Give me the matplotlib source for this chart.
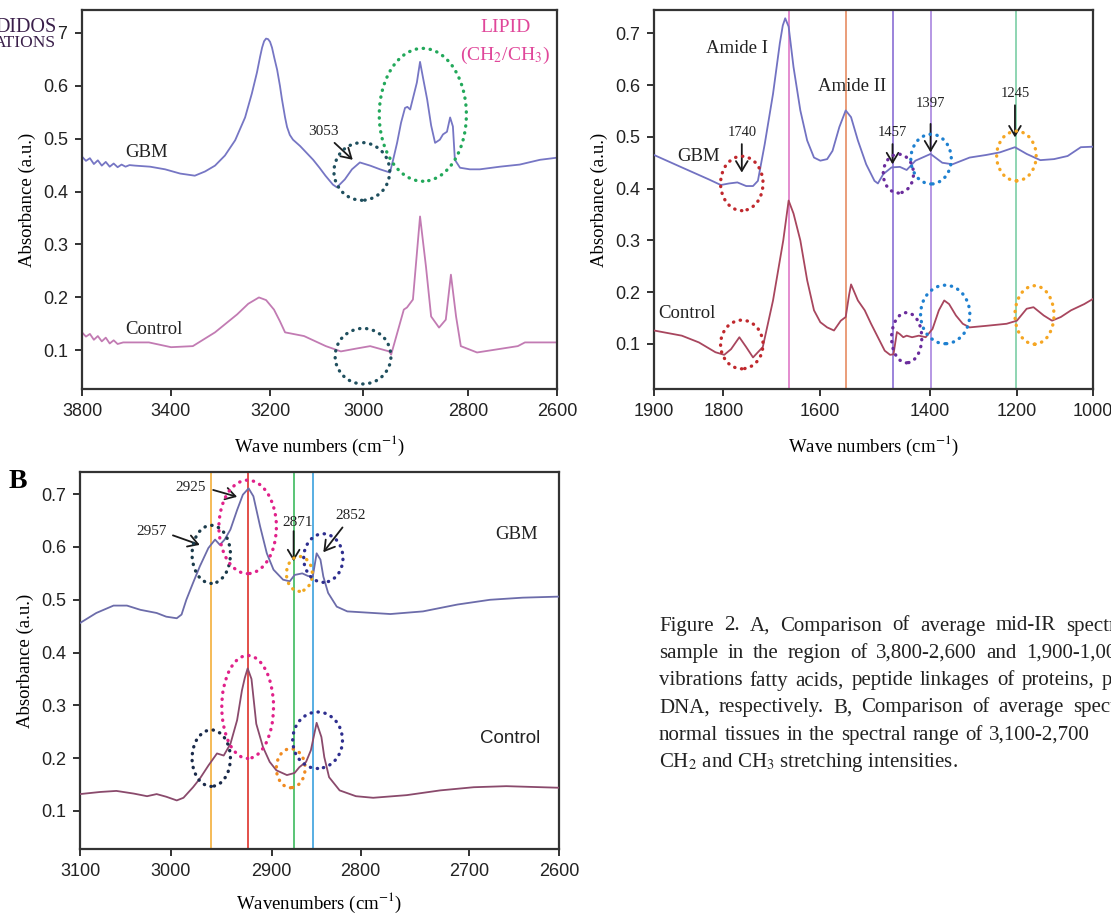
import numpy as np
import matplotlib.pyplot as plt
from matplotlib.patches import Ellipse

plt.rcParams['font.family'] = ['Liberation Sans', 'DejaVu Sans']
plt.rcParams['mathtext.fontset'] = 'stix'
SERIF = ['Liberation Serif', 'DejaVu Serif']

# ---- Panel A (left): 3800-2600 cm-1 ----
a1_wn_gbm = [3800, 3790, 3780, 3770, 3760, 3750, 3740, 3730, 3720, 3710, 3700, 3690, 3680,
             3666, 3628, 3590, 3552, 3515, 3489, 3464, 3439, 3413, 3388,
             3371, 3358, 3350, 3345, 3340, 3335, 3330, 3325, 3320, 3314,
             3307, 3300, 3295, 3287, 3282, 3275, 3267, 3249, 3216, 3200,
             3185, 3166, 3156, 3136, 3118, 3098, 3072, 3047, 3022, 3014,
             3004, 2994, 2984, 2978, 2971, 2961, 2954, 2946, 2939, 2928,
             2918, 2908, 2896, 2888, 2878, 2870, 2863, 2858, 2845, 2820,
             2795, 2744, 2694, 2643, 2600]
a1_abs_gbm = [.466, .458, .463, .452, .459, .449, .456, .447, .453, .446, .451, .447, .450,
              .449, .447, .442, .434, .430, .438, .449, .468, .497, .540,
              .585, .625, .655, .672, .684, .689, .688, .683, .672, .652,
              .630, .600, .575, .540, .522, .507, .498, .486, .460, .445,
              .430, .413, .408, .423, .442, .455, .449, .442, .436, .460,
              .492, .530, .558, .560, .555, .585, .606, .645, .617, .574,
              .525, .492, .498, .508, .513, .540, .523, .460, .445, .442,
              .442, .447, .451, .460, .464]
a1_wn_ctl = [3800, 3790, 3780, 3770, 3760, 3750, 3740, 3730, 3720, 3710, 3696,
             3631, 3575, 3520, 3464, 3408, 3380, 3353, 3335, 3315, 3300,
             3287, 3239, 3184, 3146, 3110, 3072, 3024, 3019, 2987, 2979,
             2964, 2946, 2931, 2918, 2898, 2881, 2868, 2855, 2843, 2802,
             2699, 2681, 2600]
a1_abs_ctl = [.134, .126, .131, .120, .127, .117, .124, .113, .119, .112, .115,
              .115, .106, .108, .134, .168, .188, .200, .195, .177, .155,
              .134, .127, .108, .098, .103, .108, .098, .092, .177, .181,
              .196, .353, .258, .164, .143, .158, .243, .164, .108, .096,
              .108, .115, .115]
a1_tick_pos = [3800, 3576, 3324, 3089, 2824, 2600]
a1_tick_lab = ['3800', '3400', '3200', '3000', '2800', '2600']

# ---- Panel A (right): 1900-1000 cm-1 ----
a2_wn_gbm = [1900, 1843, 1788, 1763, 1746, 1729, 1711, 1697, 1687, 1673, 1656, 1642, 1636,
             1631, 1624, 1614, 1600, 1586, 1572, 1559, 1545, 1534, 1520, 1507, 1496,
             1482, 1465, 1448, 1441, 1430, 1413, 1396, 1382, 1364, 1333, 1309, 1288,
             1253, 1219, 1191, 1160, 1136, 1108, 1080, 1052, 1025, 1000]
a2_abs_gbm = [.465, .441, .418, .407, .410, .412, .405, .405, .415, .486, .583, .681, .715,
              .729, .713, .635, .551, .493, .460, .454, .457, .473, .519, .551, .538,
              .493, .447, .415, .410, .428, .441, .442, .436, .454, .467, .450, .447,
              .460, .465, .470, .480, .467, .455, .457, .463, .480, .481]
a2_wn_ctl = [1900, 1843, 1808, 1774, 1756, 1742, 1725, 1711, 1697, 1687, 1677, 1656, 1635,
             1624, 1614, 1600, 1586, 1572, 1559, 1545, 1531, 1517, 1507, 1500, 1496,
             1482, 1468, 1455, 1441, 1427, 1416, 1409, 1402, 1396, 1389, 1382, 1371,
             1357, 1343, 1329, 1316, 1305, 1295, 1281, 1267, 1253, 1219, 1177, 1156,
             1136, 1122, 1101, 1084, 1066, 1045, 1018, 1000]
a2_abs_ctl = [.126, .116, .103, .084, .079, .090, .113, .094, .074, .084, .094, .184, .300,
              .377, .352, .300, .223, .165, .142, .132, .126, .145, .152, .195, .215,
              .184, .165, .139, .113, .087, .079, .080, .123, .119, .113, .116, .113,
              .116, .113, .129, .165, .184, .177, .155, .139, .132, .135, .139, .145,
              .168, .171, .155, .145, .152, .165, .177, .187]
a2_tick_pos = [1900, 1758, 1560, 1334, 1156, 1000]
a2_tick_lab = ['1900', '1800', '1600', '1400', '1200', '1000']
a2_lines = [1623, 1507, 1410, 1333, 1157]

# ---- Panel B: 3100-2600 cm-1 ----
b_wn_gbm = [3100, 3083, 3065, 3051, 3037, 3020, 3010, 2999, 2994, 2989, 2982, 2975, 2966,
            2959, 2954, 2949, 2943, 2936, 2930, 2924, 2919, 2912, 2905, 2898, 2888,
            2881, 2876, 2868, 2862, 2857, 2853, 2849, 2846, 2841, 2832, 2821, 2794,
            2776, 2742, 2706, 2672, 2638, 2600]
b_abs_gbm = [.456, .475, .489, .489, .481, .475, .468, .465, .472, .500, .532, .563, .598,
             .614, .604, .614, .633, .670, .699, .711, .696, .639, .588, .557, .538,
             .535, .547, .550, .545, .544, .588, .576, .544, .513, .487, .478, .475,
             .473, .478, .491, .500, .504, .506]
b_wn_ctl = [3100, 3079, 3062, 3044, 3030, 3020, 3010, 2999, 2992, 2982, 2975, 2966, 2957,
            2950, 2943, 2936, 2931, 2928, 2925, 2921, 2916, 2909, 2902, 2895, 2884,
            2876, 2871, 2864, 2859, 2853, 2848, 2845, 2840, 2829, 2812, 2794, 2759,
            2724, 2689, 2655, 2600]
b_abs_ctl = [.132, .136, .138, .133, .128, .132, .127, .120, .125, .145, .161, .186, .209,
             .205, .227, .272, .328, .352, .370, .350, .265, .221, .193, .177, .168,
             .172, .183, .193, .215, .267, .240, .202, .164, .139, .128, .125, .130,
             .139, .145, .147, .144]
b_tick_pos = [3100, 3005, 2900, 2807, 2694, 2600]
b_tick_lab = ['3100', '3000', '2900', '2800', '2700', '2600']
b_lines = [2963, 2925, 2877, 2857]

y_ticks = [0.1, 0.2, 0.3, 0.4, 0.5, 0.6, 0.7]

caption = ['Figure 2. A, Comparison of average mid-IR spectr',
           'sample in the region of 3,800-2,600 and 1,900-1,00',
           'vibrations fatty acids, peptide linkages of proteins, p',
           'DNA, respectively. B, Comparison of average spect',
           'normal tissues in the spectral range of 3,100-2,700',
           'CH$_2$ and CH$_3$ stretching intensities.']

W, H = 1111, 918
fig = plt.figure(figsize=(W / 100, H / 100), dpi=100)


def px_axes(l, t, r, b):
    return fig.add_axes([l / W, 1 - b / H, (r - l) / W, (b - t) / H])


def style(ax, xlim, ylim, tpos, tlab, xlabel):
    ax.set_xlim(*xlim)
    ax.set_ylim(*ylim)
    ax.set_xticks(tpos)
    ax.set_xticklabels(tlab)
    ax.set_yticks(y_ticks)
    ax.set_yticklabels([f'{v:.1f}' for v in y_ticks])
    ax.tick_params(direction='out', length=5, width=1.3, labelsize=13,
                   pad=5, colors='#222222')
    for s in ax.spines.values():
        s.set_linewidth(1.6)
        s.set_color('#333333')
    ax.set_ylabel('Absorbance (a.u.)', family=SERIF, fontsize=13.5, labelpad=5)
    ax.set_xlabel(xlabel, family=SERIF, fontsize=13.5, labelpad=10)


def ring(ax, x, y, w, h, color):
    e = Ellipse((x, y), w, h, fill=False, edgecolor=color, lw=2.4,
                linestyle=(0, (0.1, 2.0)), zorder=5)
    e.set_capstyle('round')
    ax.add_patch(e)


def arrow(ax, x0, y0, x1, y1):
    ax.annotate('', xy=(x1, y1), xytext=(x0, y0),
                arrowprops=dict(arrowstyle='->,head_length=0.5,head_width=0.3',
                                lw=1.3, color='#1a1a1a', shrinkA=0, shrinkB=0,
                                mutation_scale=14))


def label(ax, x, y, s, size=13.5, color='#222222', family=SERIF):
    ax.text(x, y, s, ha='center', va='center', fontsize=size, color=color,
            family=family, zorder=6)


# ---------------- A left ----------------
ax1 = px_axes(82, 10, 557, 389)
ax1.plot(a1_wn_gbm, a1_abs_gbm, color='#7676c4', lw=1.3)
ax1.plot(a1_wn_ctl, a1_abs_ctl, color='#c27bb3', lw=1.3)
style(ax1, (3800, 2600), (0.027, 0.743), a1_tick_pos, a1_tick_lab,
      'Wave numbers (cm$^{-1}$)')
ring(ax1, 3093, 0.438, 141, 0.109, '#1f4f5e')
ring(ax1, 3090, 0.089, 141, 0.105, '#1f4f5e')
ring(ax1, 2939, 0.545, 220, 0.251, '#22a85a')
label(ax1, 3636, 0.474, 'GBM')
label(ax1, 3618, 0.140, 'Control')
label(ax1, 3191, 0.513, '3053', size=11)
arrow(ax1, 3162, 0.492, 3116, 0.460)
label(ax1, 2731, 0.709, 'LIPID', size=14, color='#e0479a')
label(ax1, 2731, 0.658, '(CH$_2$/CH$_3$)', size=14, color='#e0479a')

# ---------------- A right ----------------
ax2 = px_axes(654, 10, 1093, 389)
for x, c in zip(a2_lines, ['#e283cc', '#e8956e', '#9379d8', '#b08fe2', '#86d2ad']):
    ax2.axvline(x, color=c, lw=1.3, zorder=1)
ax2.plot(a2_wn_gbm, a2_abs_gbm, color='#7272c2', lw=1.3, zorder=3)
ax2.plot(a2_wn_ctl, a2_abs_ctl, color='#a8465e', lw=1.3, zorder=3)
style(ax2, (1900, 1000), (0.013, 0.745), a2_tick_pos, a2_tick_lab,
      'Wave numbers (cm$^{-1}$)')
ring(ax2, 1720, 0.410, 87, 0.105, '#c0282d')
ring(ax2, 1399, 0.429, 62, 0.075, '#6a2c9c')
ring(ax2, 1332, 0.457, 83, 0.096, '#1e80d0')
ring(ax2, 1157, 0.463, 81, 0.096, '#f5a623')
ring(ax2, 1720, 0.099, 87, 0.094, '#c0282d')
ring(ax2, 1382, 0.112, 62, 0.097, '#6a2c9c')
ring(ax2, 1303, 0.157, 101, 0.113, '#1e80d0')
ring(ax2, 1120, 0.156, 80, 0.113, '#f5a623')
label(ax2, 1729, 0.671, 'Amide I')
label(ax2, 1493, 0.598, 'Amide II')
label(ax2, 1808, 0.463, 'GBM')
label(ax2, 1833, 0.158, 'Control')
for x, ytxt, y0, y1, s in [(1720, 0.509, 0.486, 0.431, '1740'),
                           (1411, 0.509, 0.486, 0.447, '1457'),
                           (1333, 0.564, 0.525, 0.470, '1397'),
                           (1160, 0.583, 0.561, 0.499, '1245')]:
    label(ax2, x, ytxt, s, size=10.5)
    arrow(ax2, x, y0, x, y1)

# ---------------- B ----------------
ax3 = px_axes(80, 472, 559, 849)
for x, c in zip(b_lines, ['#f5b54a', '#e0413a', '#4cbf6a', '#4aa8e0']):
    ax3.axvline(x, color=c, lw=1.3, zorder=1)
ax3.plot(b_wn_gbm, b_abs_gbm, color='#6c6caa', lw=1.3, zorder=3)
ax3.plot(b_wn_ctl, b_abs_ctl, color='#8a4a6c', lw=1.3, zorder=3)
style(ax3, (3100, 2600), (0.028, 0.742), b_tick_pos, b_tick_lab,
      'Wavenumbers (cm$^{-1}$)')
ax3.xaxis.labelpad = 8
ring(ax3, 2963, 0.586, 40, 0.110, '#1a3a4a')
ring(ax3, 2925, 0.638, 60, 0.177, '#e0218a')
ring(ax3, 2871, 0.549, 27, 0.066, '#f0a820')
ring(ax3, 2846, 0.579, 41, 0.092, '#2e2e8e')
ring(ax3, 2963, 0.200, 40, 0.107, '#1a2a4a')
ring(ax3, 2925, 0.297, 54, 0.195, '#e0218a')
ring(ax3, 2880, 0.181, 30, 0.074, '#f08a20')
ring(ax3, 2852, 0.234, 52, 0.107, '#2e2e8e')
label(ax3, 2985, 0.713, '2925', size=11)
arrow(ax3, 2961, 0.708, 2936, 0.695)
label(ax3, 3025, 0.629, '2957', size=11)
arrow(ax3, 3003, 0.622, 2975, 0.604)
label(ax3, 2873, 0.647, '2871', size=11)
arrow(ax3, 2877, 0.630, 2877, 0.573)
label(ax3, 2818, 0.660, '2852', size=11)
arrow(ax3, 2826, 0.637, 2846, 0.590)
label(ax3, 2644, 0.624, 'GBM')
label(ax3, 2651, 0.237, 'Control', size=13.5, family=['Liberation Sans', 'DejaVu Sans'])

fig.text(18 / W, 1 - 481 / H, 'B', family=SERIF, fontsize=20, weight='bold',
         ha='center', va='center')

# publisher logo fragment in the corner
box = dict(facecolor='white', edgecolor='none', pad=0.5)
fig.text(57 / W, 1 - 27 / H, 'DIDOS', family=SERIF, fontsize=14.5, color='#3a1f4a',
         ha='right', va='center', bbox=box)
fig.text(56 / W, 1 - 43 / H, 'ATIONS', family=SERIF, fontsize=12.5, color='#3a1f4a',
         ha='right', va='center', bbox=box)

# caption: justified lines (words spread to the right end of each line)
renderer = fig.canvas.get_renderer()
cap_x0 = 659
cap_ends = [1116, 1116, 1112, 1116, 1090, None]
for i, (line, end) in enumerate(zip(caption, cap_ends)):
    y = 1 - (626 + 27.3 * i) / H
    kw = dict(family=SERIF, fontsize=15, color='#222222', ha='left', va='center')
    if end is None:
        fig.text(cap_x0 / W, y, line, **kw)
        continue
    words = line.split(' ')
    texts = [fig.text(0, y, w, **kw) for w in words]
    widths = [t.get_window_extent(renderer).width for t in texts]
    gap = (end - cap_x0 - sum(widths)) / (len(words) - 1)
    x = cap_x0
    for t, w in zip(texts, widths):
        t.set_x(x / W)
        x += w + gap

fig.savefig('out.png', dpi=100)
